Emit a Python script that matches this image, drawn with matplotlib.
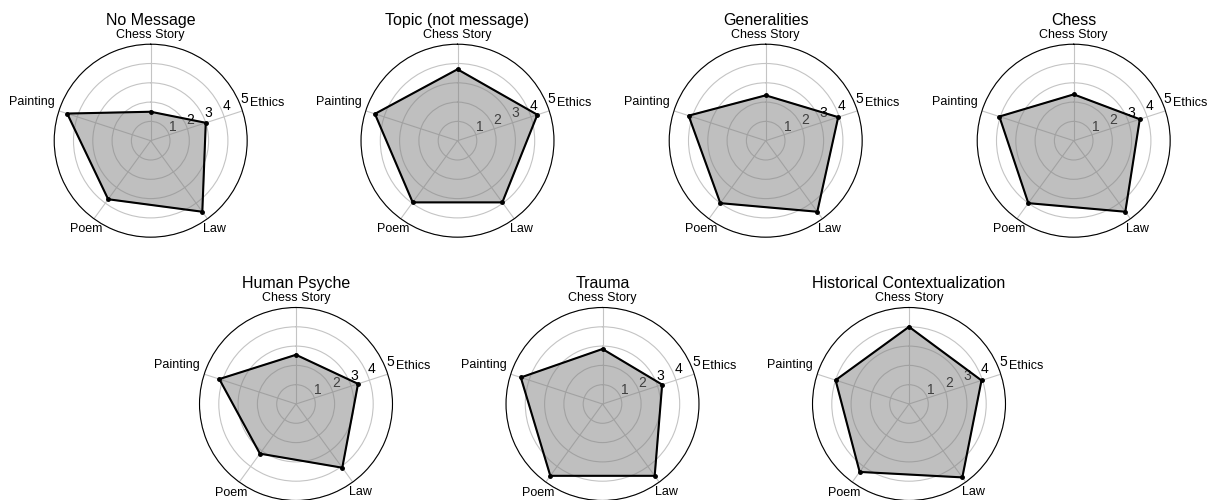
import numpy as np
import matplotlib
matplotlib.use("Agg")
import matplotlib.pyplot as plt

plt.rcParams['font.family'] = ['Liberation Sans', 'DejaVu Sans']

categories = ["Chess Story", "Ethics", "Law", "Poem", "Painting"]
titles = ["No Message", "Topic (not message)", "Generalities", "Chess",
          "Human Psyche", "Trauma", "Historical Contextualization"]
no_message = [1.5, 3.0, 4.55, 3.75, 4.55]
topic = [3.7, 4.35, 3.95, 3.95, 4.5]
generalities = [2.35, 3.95, 4.55, 4.0, 4.2]
chess = [2.4, 3.6, 4.55, 4.0, 4.05]
human_psyche = [2.55, 3.38, 4.08, 3.18, 4.18]
trauma = [2.85, 3.25, 4.6, 4.6, 4.45]
historical = [4.0, 3.95, 4.7, 4.35, 4.0]
series = [no_message, topic, generalities, chess, human_psyche, trauma, historical]
r_ticks = [1, 2, 3, 4, 5]

W, H = 1210, 500
fig = plt.figure(figsize=(W / 100, H / 100), dpi=100)

R = 96.5
centers = [(150.7, 140.7), (457.5, 140.7), (765.7, 140.7), (1073.7, 140.7),
           (296.0, 404.0), (602.5, 404.0), (909.0, 404.0)]
# distance (pixels) of each category label centre from the chart centre
label_dist = [106, 123, 109, 109.5, 125]

N = len(categories)
angles = np.linspace(0, 2 * np.pi, N, endpoint=False)

for (cx, cy), title, vals in zip(centers, titles, series):
    ax = fig.add_axes([(cx - R) / W, (H - cy - R) / H, 2 * R / W, 2 * R / H],
                      projection='polar')
    ax.set_theta_offset(np.pi / 2)
    ax.set_theta_direction(-1)
    th = np.concatenate([angles, angles[:1]])
    v = np.concatenate([vals, vals[:1]])
    ax.fill(th, v, color='grey', alpha=0.5, zorder=2)
    ax.plot(th, v, color='black', lw=1.5, zorder=3)
    ax.plot(angles, vals, 'o', color='black', ms=2.5, zorder=4)
    ax.set_ylim(0, 5)
    ax.set_yticks(r_ticks)
    ax.set_yticklabels([str(t) for t in r_ticks], fontsize=10)
    ax.set_rlabel_position(69)
    ax.set_xticks(angles)
    ax.set_xticklabels([])
    ax.grid(True, color='#c4c4c4', lw=0.8)
    ax.spines['polar'].set_color('black')
    ax.spines['polar'].set_linewidth(0.8)
    for a, lab, d in zip(angles, categories, label_dist):
        disp = np.pi / 2 - a
        ax.annotate(lab, xy=(0.5, 0.5), xycoords='axes fraction',
                    xytext=(d * np.cos(disp), d * np.sin(disp)),
                    textcoords='offset pixels', ha='center', va='center',
                    fontsize=9, annotation_clip=False)
    ax.text(0.5, 1.125, title, transform=ax.transAxes, ha='center',
            va='center', fontsize=11.5)

fig.savefig("out.png", dpi=100)
